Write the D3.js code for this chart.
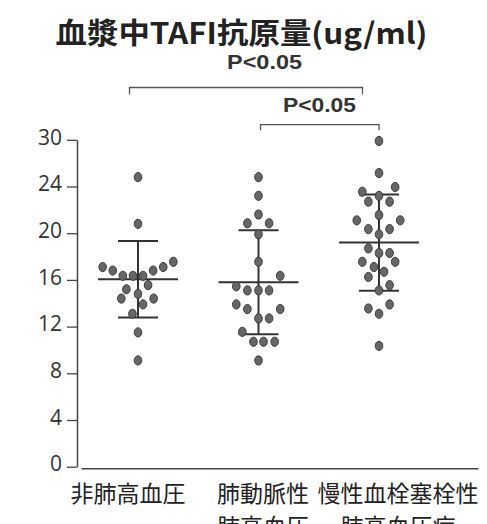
<!DOCTYPE html>
<html>
<head>
<meta charset="utf-8">
<script src="https://cdn.jsdelivr.net/npm/d3@7"></script>
<style>
  body { margin: 0; background: #fff; }
  svg { display: block; }
</style>
</head>
<body>
<div id="chart"></div>
<script>
// groups and their two-line labels
const groups = ['non', 'pah', 'cteph'];
const groupLabels = [
    ['非肺高血圧'],
    ['肺動脈性', '肺高血圧'],
    ['慢性血栓塞栓性', '肺高血圧症']
];

// y tick positions and the labels printed at them (top tick reads 30 in the original)
const tickValues = [0, 4, 8, 12, 16, 20, 24, 28];
const tickLabels = ['0', '4', '8', '12', '16', '20', '24', '30'];

// individual values (axis position units)
const nonValues = [24.8, 20.8, 17.1, 16.8, 16.35, 16.35, 16.35, 16.8, 17.1, 17.55,
    15.2, 15.55, 14.4, 14.8, 14.4, 13.9, 13.1, 11.5, 9.1];
const pahValues = [24.8, 23.2, 21.6, 20.85, 20.85, 19.9, 17.55, 16.35, 15.45, 15.1, 15.1, 15.1,
    13.9, 13.5, 13.5, 12.7, 12.7, 11.55, 10.7, 10.7, 10.7, 9.1];
const ctephValues = [27.9, 25.15, 23.55, 23.95, 23.2, 22.7, 22.7, 21.55, 21.1, 21.1,
    20.35, 20.35, 19.9, 18.7, 18.3, 18.3, 17.55, 17.55, 17.1, 16.7, 16.25, 15.55, 15.1,
    13.55, 13.9, 13.1, 10.35];

// horizontal swarm slot of each dot, in dot widths
const nonSlots = [0, 0, -3.5, -2.5, -1.5, -0.5, 0.5, 1.5, 2.5, 3.5,
    -1.15, 1, -1.65, 0, 1.55, 0.5, -0.55, 0, 0];
const pahSlots = [0, 0, 0, -1.1, 1.05, 0, 0, 2.15, -2.2, -1.1, 0, 1.05,
    -2.2, -1.1, 2.15, 0, 1.05, -1.6, -0.5, 0.5, 1.6, 0];
const ctephSlots = [0, 0, -1.65, 1.6, 0, -1.05, 1.05, 0, -2.2, 2.1,
    -1.05, 1.05, 0, -1.05, 0, 1.05, -1.65, 1.6, -0.5, 0.5, -1.05, 1.05, 0,
    -1.05, 1.05, 0, 0];

// mean and SD per group
const means = [16.05, 15.8, 19.2];
const sds = [3.28, 4.45, 4.12];

const values = [nonValues, pahValues, ctephValues];
const slots = [nonSlots, pahSlots, ctephSlots];

const width = 487, height = 524;
const svg = d3.select('#chart').append('svg')
    .attr('width', width)
    .attr('height', height);

const y = d3.scaleLinear().domain([0, 28]).range([466.7, 139.8]);
const x = d3.scalePoint().domain(groups).range([138, 379]);
const xLabel = d3.scalePoint().domain(groups).range([128, 398]);
const xBase = d3.scaleBand().domain(groups).range([81, 478]);
const slotW = 10.1;

// y axis
const yAxis = svg.append('g')
    .attr('transform', 'translate(77,0)')
    .call(d3.axisLeft(y)
        .tickValues(tickValues)
        .tickFormat((d, i) => tickLabels[i])
        .tickSize(10)
        .tickSizeOuter(0)
        .tickPadding(5));
yAxis.select('.domain').attr('stroke', '#444').attr('stroke-width', 1.5);
yAxis.selectAll('.tick line').attr('stroke', '#444').attr('stroke-width', 1.3);
yAxis.selectAll('.tick text')
    .attr('fill', '#333')
    .attr('dy', '0.2em')
    .style('font-family', "'Open Sans', sans-serif")
    .style('font-size', '21px');

// x baseline
const xAxis = svg.append('g')
    .attr('transform', 'translate(0,' + (y(0) + 1.5) + ')')
    .call(d3.axisBottom(xBase).tickSize(0).tickFormat(''));
xAxis.select('.domain').attr('stroke', '#444').attr('stroke-width', 1.5);

// category labels
groups.forEach((g, i) => {
    const t = svg.append('text')
        .attr('x', xLabel(g))
        .attr('y', 501.5)
        .attr('text-anchor', 'middle')
        .attr('fill', '#222')
        .style('font-family', "'Noto Sans CJK JP', sans-serif")
        .style('font-size', '23px');
    groupLabels[i].forEach((line, k) => {
        t.append('tspan')
            .attr('x', xLabel(g))
            .attr('dy', k === 0 ? 0 : 33)
            .text(line);
    });
});

// error bars and means
groups.forEach((g, i) => {
    const cx = x(g);
    const gg = svg.append('g').attr('stroke', '#333').attr('stroke-width', 2);
    gg.append('line')
        .attr('x1', cx).attr('x2', cx)
        .attr('y1', y(means[i] + sds[i])).attr('y2', y(means[i] - sds[i]));
    [means[i] + sds[i], means[i] - sds[i]].forEach(v => {
        gg.append('line')
            .attr('x1', cx - 20).attr('x2', cx + 20)
            .attr('y1', y(v)).attr('y2', y(v));
    });
    gg.append('line')
        .attr('x1', cx - 40).attr('x2', cx + 40)
        .attr('y1', y(means[i])).attr('y2', y(means[i]));
});

// dots
groups.forEach((g, i) => {
    svg.append('g').selectAll('ellipse')
        .data(values[i])
        .enter()
        .append('ellipse')
        .attr('cx', (d, k) => x(g) + slots[i][k] * slotW)
        .attr('cy', d => y(d))
        .attr('rx', 3.8)
        .attr('ry', 4.6)
        .attr('fill', '#666')
        .attr('stroke', '#3c3c3c')
        .attr('stroke-width', 1);
});

// significance brackets
const bracket = (x1, x2, yy, drop) => {
    svg.append('path')
        .attr('d', 'M' + x1 + ',' + (yy + drop) + 'V' + yy + 'H' + x2 + 'V' + (yy + drop))
        .attr('fill', 'none')
        .attr('stroke', '#555')
        .attr('stroke-width', 1.3);
};
bracket(x('non') - 8.5, x('cteph') - 16.5, 87.5, 7);
bracket(x('pah') + 2, x('cteph'), 124.7, 5.5);

const pLabel = (cx, by, len) => {
    svg.append('text')
        .attr('x', cx)
        .attr('y', by)
        .attr('text-anchor', 'middle')
        .attr('fill', '#333')
        .attr('textLength', len)
        .attr('lengthAdjust', 'spacingAndGlyphs')
        .style('font-family', "'Liberation Sans', Arial, sans-serif")
        .style('font-weight', 'bold')
        .style('font-size', '19.5px')
        .text('P<0.05');
};
pLabel(264.5, 69, 75);
pLabel(319.5, 111.5, 73);

// title
svg.append('text')
    .attr('x', 241.5)
    .attr('y', 43.5)
    .attr('text-anchor', 'middle')
    .attr('fill', '#222')
    .attr('textLength', 372)
    .attr('lengthAdjust', 'spacingAndGlyphs')
    .style('font-family', "'Noto Sans CJK JP', sans-serif")
    .style('font-weight', 'bold')
    .style('font-size', '29px')
    .text('血漿中TAFI抗原量(ug/ml)');
</script>
</body>
</html>
